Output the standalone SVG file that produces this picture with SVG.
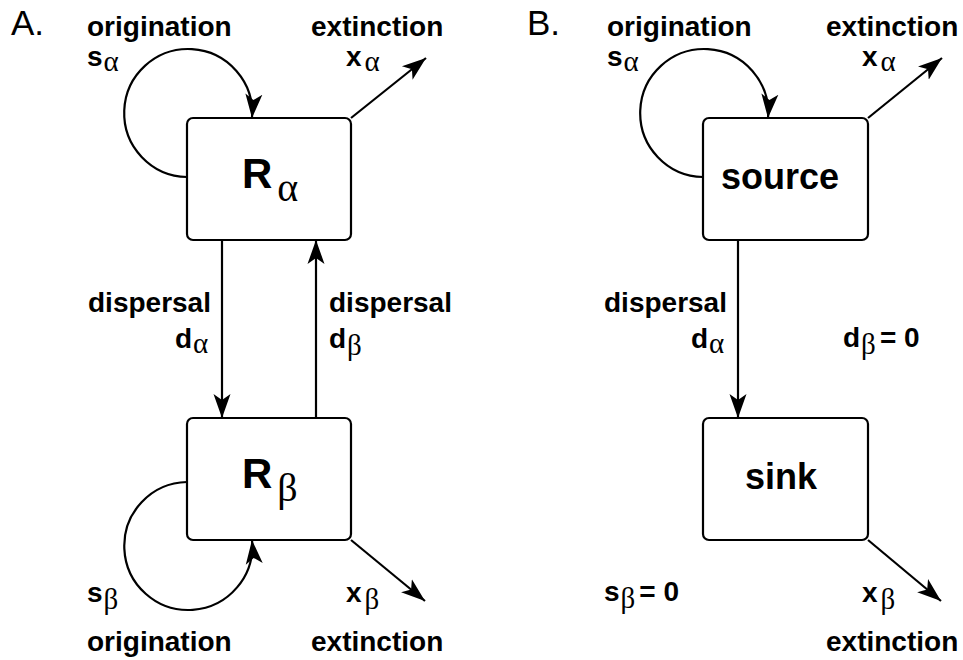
<svg xmlns="http://www.w3.org/2000/svg" width="963" height="660" viewBox="0 0 963 660">
<style>
.box{fill:#fff;stroke:#000;stroke-width:2.2}
.ln{fill:none;stroke:#000;stroke-width:2.2;marker-end:url(#ah)}
.lbl{font-family:"Liberation Sans",Arial,Helvetica,sans-serif;font-weight:bold;font-size:28px;fill:#000}
.gr{font-family:"Liberation Serif","Times New Roman",serif;font-weight:normal;font-size:29px}
.big{font-family:"Liberation Sans",Arial,Helvetica,sans-serif;font-weight:bold;font-size:42px;fill:#000}
.biggr{font-family:"Liberation Serif","Times New Roman",serif;font-weight:normal;font-size:40px}
.nm{font-family:"Liberation Sans",Arial,Helvetica,sans-serif;font-weight:bold;font-size:36px;fill:#000}
.pn{font-family:"Liberation Sans",Arial,Helvetica,sans-serif;font-size:35px;fill:#000}
</style>
<defs>
<marker id="ah" markerUnits="userSpaceOnUse" markerWidth="26" markerHeight="20" refX="24" refY="10" orient="auto">
<path d="M24,10 L0,1.5 L6,10 L0,18.5 Z" fill="#000"/>
</marker>
</defs>
<text class="pn" x="11" y="35">A.</text>
<text class="pn" x="527" y="35">B.</text>
<g id="connectors">
<path class="ln" d="M187,177 A64,64 0 1 1 252,118"/>
<path class="ln" d="M187,482 A64,64 0 1 0 252,540"/>
<path class="ln" d="M351,118 L426,58"/>
<path class="ln" d="M351,540 L425,601"/>
<path class="ln" d="M222,240 L222,418"/>
<path class="ln" d="M316,418 L316,240"/>
<path class="ln" d="M703,177 A64,64 0 1 1 768,118"/>
<path class="ln" d="M868,118 L942,58"/>
<path class="ln" d="M738,240 L738,418"/>
<path class="ln" d="M868,540 L941,601"/>
</g>
<g id="R_alpha">
<rect class="box" x="187" y="118" width="164" height="122" rx="6"/>
<text class="big" x="242" y="188">R<tspan class="biggr" dx="5" dy="13">α</tspan></text>
</g>
<g id="R_beta">
<rect class="box" x="187" y="418" width="164" height="122" rx="6"/>
<text class="big" x="242" y="488">R<tspan class="biggr" dx="5" dy="13">β</tspan></text>
</g>
<g id="source">
<rect class="box" x="703" y="118" width="165" height="122" rx="6"/>
<text class="nm" x="721" y="189">source</text>
</g>
<g id="sink">
<rect class="box" x="703" y="418" width="165" height="122" rx="6"/>
<text class="nm" x="745" y="489">sink</text>
</g>
<g id="labels">
<text class="lbl" x="87" y="36">origination</text>
<text class="lbl" x="87" y="66">s<tspan class="gr" dx="1" dy="5">α</tspan></text>
<text class="lbl" x="311" y="36">extinction</text>
<text class="lbl" x="346" y="66">x<tspan class="gr" dx="3" dy="5">α</tspan></text>
<text class="lbl" x="88" y="312">dispersal</text>
<text class="lbl" x="175" y="348">d<tspan class="gr" dx="1" dy="5">α</tspan></text>
<text class="lbl" x="329" y="312">dispersal</text>
<text class="lbl" x="329" y="348">d<tspan class="gr" dx="1" dy="7">β</tspan></text>
<text class="lbl" x="87" y="602">s<tspan class="gr" dx="1" dy="7">β</tspan></text>
<text class="lbl" x="87" y="651">origination</text>
<text class="lbl" x="346" y="602">x<tspan class="gr" dx="3" dy="7">β</tspan></text>
<text class="lbl" x="311" y="651">extinction</text>
<text class="lbl" x="607" y="36">origination</text>
<text class="lbl" x="607" y="66">s<tspan class="gr" dx="1" dy="5">α</tspan></text>
<text class="lbl" x="826" y="36">extinction</text>
<text class="lbl" x="862" y="66">x<tspan class="gr" dx="3" dy="5">α</tspan></text>
<text class="lbl" x="604" y="312">dispersal</text>
<text class="lbl" x="691" y="348">d<tspan class="gr" dx="1" dy="5">α</tspan></text>
<text class="lbl" x="843" y="347">d<tspan class="gr" dx="1" dy="7">β</tspan><tspan dx="4" dy="-7">= 0</tspan></text>
<text class="lbl" x="604" y="601">s<tspan class="gr" dx="1" dy="7">β</tspan><tspan dx="4" dy="-7">= 0</tspan></text>
<text class="lbl" x="862" y="602">x<tspan class="gr" dx="3" dy="7">β</tspan></text>
<text class="lbl" x="826" y="651">extinction</text>
</g>
</svg>
